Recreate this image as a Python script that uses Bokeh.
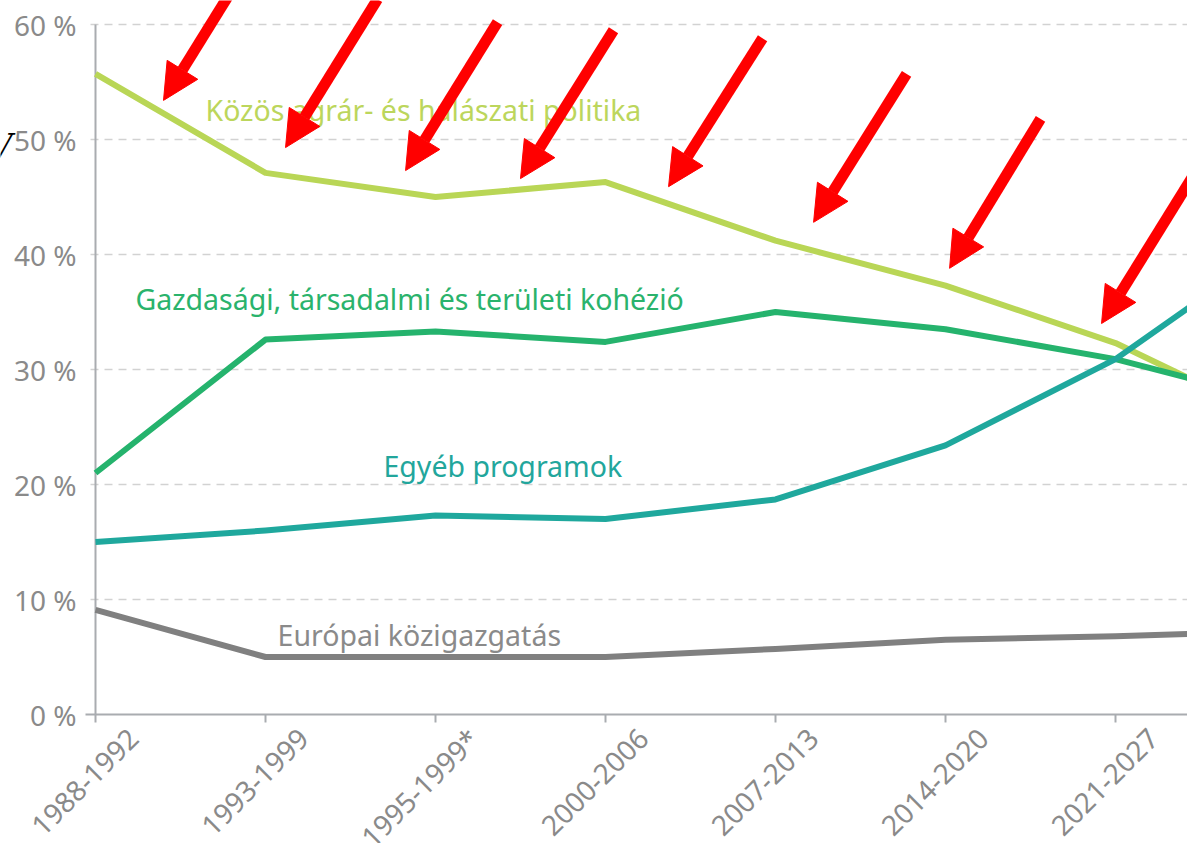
import math
from bokeh.plotting import figure
from bokeh.models import Range1d, Arrow, NormalHead
from bokeh.core.properties import value
from bokeh.embed import file_html
from bokeh.resources import INLINE

# ---------------- data ----------------
categories = ["1988-1992", "1993-1999", "1995-1999*", "2000-2006",
              "2007-2013", "2014-2020", "2021-2027", "2028-2034"]
cap_share = [55.7, 47.1, 45.0, 46.3, 41.2, 37.3, 32.3, 25.2]
cohesion_share = [21.0, 32.6, 33.3, 32.4, 35.0, 33.5, 30.9, 27.1]
other_share = [15.0, 16.0, 17.3, 17.0, 18.7, 23.4, 30.9, 41.3]
admin_share = [9.1, 5.0, 5.0, 5.0, 5.7, 6.5, 6.8, 7.27]
y_ticks = [0, 10, 20, 30, 40, 50, 60]
y_tick_labels = ["0 %", "10 %", "20 %", "30 %", "40 %", "50 %", "60 %"]
series_names = ["Közös agrár- és halászati politika",
                "Gazdasági, társadalmi és területi kohézió",
                "Egyéb programok",
                "Európai közigazgatás"]

# ---------------- styles / positions ----------------
PX_X = 170.0   # pixels per category step
PX_Y = 11.5    # pixels per percentage point
W, H = 1187, 843
X0_PX, Y0_PX = 95, 714   # where the first category / 0 % sit on the canvas
series_colors = ["#b9d656", "#25b36d", "#1fa89d", "#808080"]
label_colors = ["#bcd65c", "#2ab36c", "#22a69c", "#8a8a8a"]
axis_color = "#a9acb0"
tick_text_color = "#8a8a8a"
label_x = [0.647, 0.235, 1.694, 1.071]
label_y = [52.55, 36.15, 21.65, 6.9]
# decorative red arrows: (x_start, y_start, x_end, y_end) in data units
arrow_segments = [
    (0.941, 66.3, 0.400, 53.4),
    (1.659, 62.2, 1.118, 49.3),
    (2.365, 60.2, 1.824, 47.3),
    (3.047, 59.5, 2.500, 46.6),
    (3.924, 58.8, 3.371, 45.9),
    (4.771, 55.7, 4.224, 42.8),
    (5.559, 51.8, 5.024, 38.8),
    (6.459, 46.9, 5.918, 34.0),
]

x = list(range(len(categories)))
x_end = (W - X0_PX) / PX_X

p = figure(width=W, height=H,
           x_range=Range1d(-X0_PX / PX_X, x_end),
           y_range=Range1d(-(H - Y0_PX) / PX_Y, Y0_PX / PX_Y),
           x_axis_location=None, y_axis_location=None,
           output_backend="svg", toolbar_location=None,
           min_border=0)
p.outline_line_color = None
p.background_fill_color = "white"
p.border_fill_color = "white"
p.xgrid.grid_line_color = None
p.ygrid.grid_line_color = None

# horizontal dashed grid lines (10 % ... 60 %)
n_grid = len(y_ticks) - 1
p.segment(x0=[-5 / PX_X] * n_grid, y0=y_ticks[1:], x1=[x_end] * n_grid, y1=y_ticks[1:],
          line_color="#d2d2d2", line_width=1.6, line_dash="8 6")

# y axis: line, 0 % tick, labels
p.segment(x0=[0], y0=[y_ticks[0]], x1=[0], y1=[y_ticks[-1]],
          line_color=axis_color, line_width=2)
p.text(x=[-19 / PX_X] * len(y_ticks), y=y_ticks, text=y_tick_labels,
       text_align="right", text_baseline="middle",
       text_font=value("Noto Sans"), text_font_size="28px", text_color=tick_text_color)

# x axis: line, ticks and rotated category labels
p.segment(x0=[-10 / PX_X], y0=[0], x1=[x_end], y1=[0],
          line_color=axis_color, line_width=2)
p.segment(x0=x, y0=[0] * len(x), x1=x, y1=[-8 / PX_Y] * len(x),
          line_color=axis_color, line_width=2)
p.text(x=[i + 38 / PX_X for i in x], y=[-19 / PX_Y] * len(x), text=categories,
       angle=math.pi / 4, text_align="right", text_baseline="middle",
       text_font=value("Noto Sans"), text_font_size="28px", text_color=tick_text_color)

# lines
for vals, col in zip([cap_share, cohesion_share, other_share, admin_share], series_colors):
    p.line(x, vals, line_width=6, line_color=col, line_join="round")

# series labels
p.text(x=label_x, y=label_y, text=series_names,
       text_color=label_colors, text_font=value("Noto Sans"),
       text_font_size="28.5px", text_baseline="alphabetic", text_align="left")

# stray character at the left edge of the original
p.text(x=[(12 - X0_PX) / PX_X], y=[(Y0_PX - 146) / PX_Y], text=["V"],
       text_align="right", text_baseline="alphabetic",
       text_font=value("DejaVu Serif"), text_font_style="italic",
       text_font_size="33px", text_color="black")

# red arrows
for xs, ys, xe, ye in arrow_segments:
    p.add_layout(Arrow(x_start=xs, y_start=ys, x_end=xe, y_end=ye,
                       line_color="#ff0000", line_width=11,
                       end=NormalHead(size=36, fill_color="#ff0000",
                                      line_color="#ff0000", line_width=1)))

open("out.html", "w").write(file_html(p, INLINE))
